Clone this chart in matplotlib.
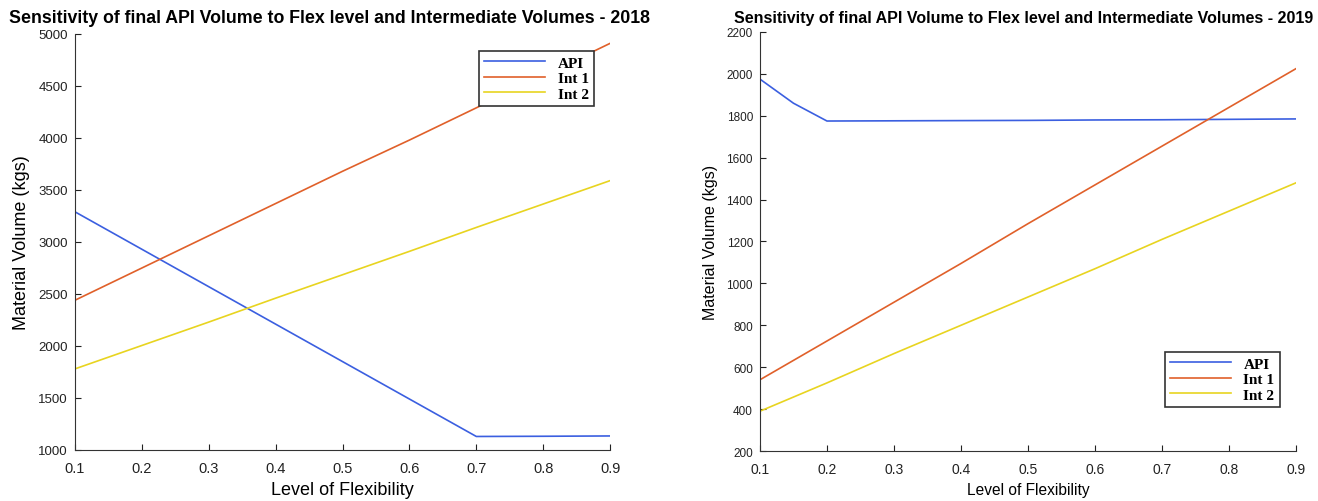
import numpy as np
import matplotlib.pyplot as plt

# data
flex = [0.1, 0.2, 0.3, 0.4, 0.5, 0.6, 0.7, 0.8, 0.9]

api_2018 = [3290, 2930, 2570, 2210, 1850, 1490, 1130, 1132, 1135]
int1_2018 = [2440, 2750, 3060, 3370, 3680, 3980, 4290, 4600, 4910]
int2_2018 = [1780, 2005, 2230, 2460, 2685, 2910, 3140, 3365, 3590]

flex_api_2019 = [0.1, 0.15, 0.2, 0.3, 0.4, 0.5, 0.6, 0.7, 0.8, 0.9]
api_2019 = [1975, 1860, 1775, 1776, 1777, 1778, 1780, 1781, 1783, 1785]
int1_2019 = [540, 725, 910, 1095, 1285, 1470, 1655, 1840, 2025]
int2_2019 = [390, 525, 665, 800, 935, 1070, 1210, 1345, 1480]

colors = ['#3b5fe0', '#e0602a', '#e8d420']

plt.rcParams['font.family'] = ['Liberation Sans', 'DejaVu Sans']

fig = plt.figure(figsize=(13.18, 5.02), dpi=100)
ax1 = fig.add_axes([0.0569, 0.1016, 0.406, 0.8287])
ax2 = fig.add_axes([0.5766, 0.0996, 0.4067, 0.8347])


def style(ax, ylim, yticks, xfs, yfs, lfs, xlfs):
    ax.set_xlim(0.1, 0.9)
    ax.set_ylim(*ylim)
    ax.set_xticks(flex)
    ax.set_xticklabels([str(v) for v in flex])
    ax.set_yticks(yticks)
    ax.spines['top'].set_visible(False)
    ax.spines['right'].set_visible(False)
    ax.spines['left'].set_color('#333333')
    ax.spines['bottom'].set_color('#333333')
    ax.tick_params(direction='in', length=4, colors='#222222')
    ax.tick_params(axis='x', labelsize=xfs, pad=8)
    ax.tick_params(axis='y', labelsize=yfs, pad=5)
    ax.set_xlabel('Level of Flexibility', fontsize=xlfs, labelpad=4)
    ax.set_ylabel('Material Volume (kgs)', fontsize=lfs, labelpad=6)


ax1.plot(flex, api_2018, color=colors[0], lw=1.2, label='API')
ax1.plot(flex, int1_2018, color=colors[1], lw=1.2, label='Int 1')
ax1.plot(flex, int2_2018, color=colors[2], lw=1.2, label='Int 2')
style(ax1, (1000, 5000), np.arange(1000, 5001, 500), 10.5, 9.5, 13, 13)

ax2.plot(flex_api_2019, api_2019, color=colors[0], lw=1.2, label='API')
ax2.plot(flex, int1_2019, color=colors[1], lw=1.2, label='Int 1')
ax2.plot(flex, int2_2019, color=colors[2], lw=1.2, label='Int 2')
style(ax2, (200, 2200), np.arange(200, 2201, 200), 10, 8.5, 11.5, 11.2)

leg_font = {'family': ['Liberation Serif', 'DejaVu Serif'], 'weight': 'bold', 'size': 11}
for ax, loc, anchor in [(ax1, 'upper right', (0.97, 0.96)), (ax2, 'lower right', (0.97, 0.105))]:
    leg = ax.legend(loc=loc, bbox_to_anchor=anchor, prop=leg_font, fancybox=False,
                    framealpha=1, edgecolor='#333333', handlelength=4,
                    borderpad=0.35, labelspacing=0.12, borderaxespad=0)
    leg.get_frame().set_linewidth(1.2)

fig.text(0.250, 0.964, 'Sensitivity of final API Volume to Flex level and Intermediate Volumes - 2018',
         ha='center', va='center', fontsize=12.8, fontweight='bold')
fig.text(0.777, 0.964, 'Sensitivity of final API Volume to Flex level and Intermediate Volumes - 2019',
         ha='center', va='center', fontsize=11.5, fontweight='bold')

fig.savefig('out.png', dpi=100)
